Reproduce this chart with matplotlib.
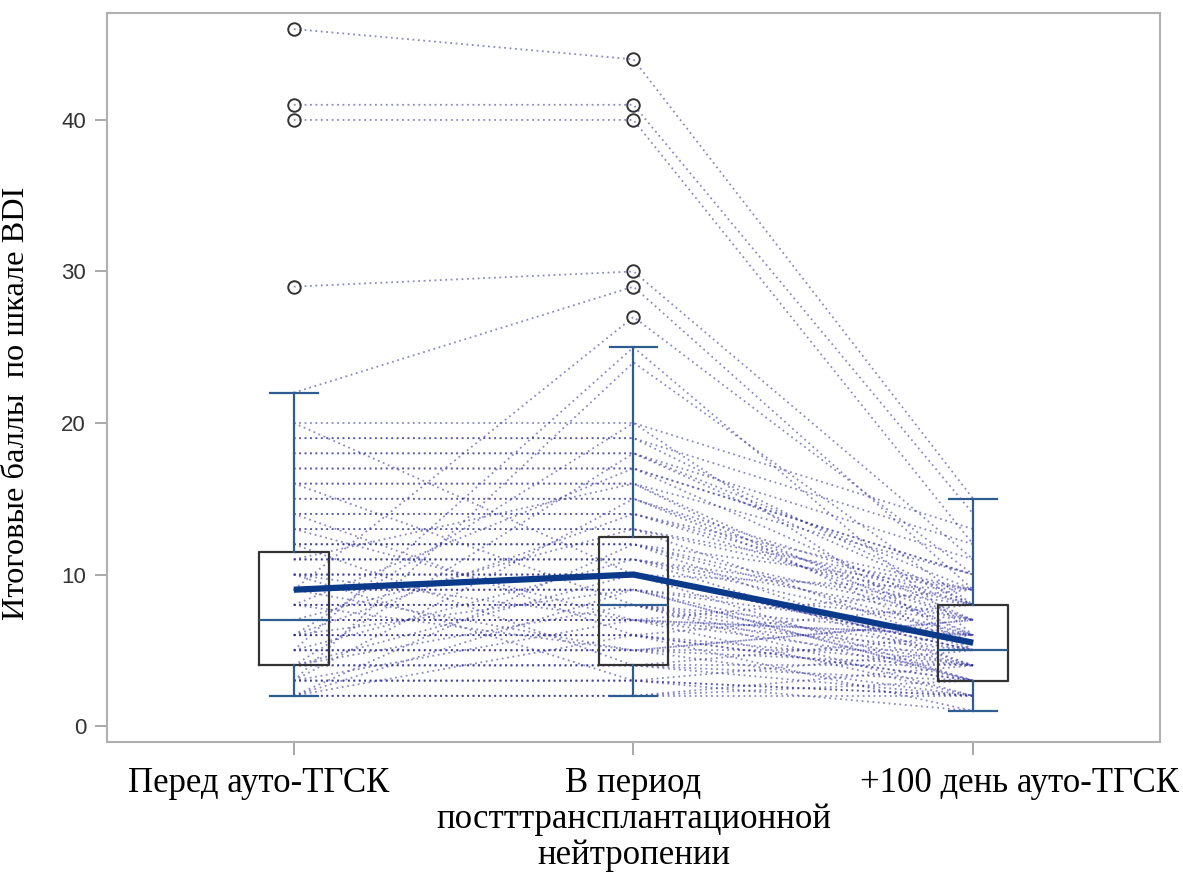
import matplotlib
matplotlib.use("Agg")
import matplotlib.pyplot as plt
import matplotlib.transforms as mtransforms

# ---- data ----
categories = ["Перед ауто-ТГСК",
              "В период\nпостттрансплантационной\nнейтропении",
              "+100 день ауто-ТГСК"]

pre  = [46, 41, 40, 29, 22, 9, 5, 3, 20, 19, 18, 18, 17, 16, 15, 15, 14, 13, 12, 12,
        11, 11, 10, 10, 9, 9, 8, 8, 7, 7, 6, 6, 5, 5, 4, 4, 3, 3, 2, 2,
        2, 3, 4, 6, 14, 12, 16, 20, 7, 5, 8, 10, 13, 11, 2, 4, 6, 3, 9, 2,
        2, 3, 4, 5, 6, 7, 8, 9, 10, 11, 12, 13, 14, 16, 17, 19, 4, 6, 8, 10]
neut = [44, 41, 40, 30, 29, 27, 25, 24, 20, 19, 18, 18, 17, 16, 15, 15, 14, 13, 12, 12,
        11, 11, 10, 10, 9, 9, 8, 8, 7, 7, 6, 6, 5, 5, 4, 4, 3, 3, 2, 2,
        12, 15, 18, 20, 6, 4, 8, 10, 13, 11, 17, 3, 7, 16, 9, 10, 14, 7, 5, 6,
        2, 3, 4, 5, 6, 7, 8, 9, 10, 11, 12, 13, 14, 16, 17, 19, 8, 9, 5, 7]
d100 = [15, 14, 12, 11, 9, 10, 6, 8, 13, 12, 9, 11, 7, 10, 8, 6, 9, 5, 7, 4,
        8, 6, 5, 9, 4, 7, 3, 6, 5, 2, 4, 3, 5, 2, 3, 4, 2, 1, 2, 3,
        6, 7, 8, 5, 3, 2, 4, 5, 9, 7, 10, 2, 4, 6, 3, 5, 8, 6, 4, 1,
        4, 5, 6, 7, 8, 9, 5, 6, 3, 4, 9, 8, 7, 5, 10, 8, 2, 3, 7, 6]

q1      = [4, 4, 3]
medians = [7, 8, 5]
q3      = [11.5, 12.5, 8]
whislo  = [2, 2, 1]
whishi  = [22, 25, 15]
fliers  = [[29, 40, 41, 46], [27, 29, 30, 40, 41, 44], []]
means   = [9, 10, 5.5]

fig = plt.figure(figsize=(11.83, 8.75), dpi=100)
ax = fig.add_axes([0.0904, 0.152, 0.8902, 0.833])

xs = [0, 1, 2]
for a, b, c in zip(pre, neut, d100):
    ax.plot(xs, [a, b, c], linestyle=(0, (1, 2.0)), color="#2a2a9a", lw=1.3,
            alpha=0.55, zorder=1)

stats = []
for i in range(3):
    stats.append(dict(q1=q1[i], med=medians[i], q3=q3[i], whislo=whislo[i],
                      whishi=whishi[i], fliers=fliers[i], label=categories[i]))
ax.bxp(stats, positions=xs, widths=0.205, showfliers=True, patch_artist=False,
       boxprops=dict(color="#333333", lw=1.6),
       medianprops=dict(color="#2f5d91", lw=1.6),
       whiskerprops=dict(color="#2f5d91", lw=1.6),
       capprops=dict(color="#2f5d91", lw=1.6),
       capwidths=0.14,
       flierprops=dict(marker="o", markerfacecolor="none", markeredgecolor="#333333",
                       markersize=9, markeredgewidth=1.4),
       zorder=2)

ax.plot(xs, means, color="#0b3a8a", lw=4.5, zorder=3, solid_capstyle="butt")

ax.set_xlim(-0.55, 2.55)
ax.set_ylim(-1.05, 47.05)
ax.set_yticks([0, 10, 20, 30, 40])
ax.set_xticks(xs)
ax.set_xticklabels(categories, family="Liberation Serif", fontsize=25,
                   linespacing=1.13)
for lab in ax.get_yticklabels():
    lab.set_family("Liberation Sans")
    lab.set_fontsize(16)
ax.set_ylabel("Итоговые баллы  по шкале BDI", family="Liberation Serif",
              fontsize=23.3)
ax.yaxis.set_label_coords(-0.072, 0.465)

for s in ax.spines.values():
    s.set_color("#b0b0b0")
    s.set_linewidth(1.5)
ax.tick_params(axis="both", colors="#999999", length=9, width=1.2)
ax.tick_params(axis="x", labelcolor="black", pad=9)
ax.tick_params(axis="y", labelcolor="#333333", pad=6)

# horizontal offsets of the outer category labels (as in the original layout)
shifts_px = [-35, 0, 46]
for lab, dx in zip(ax.get_xticklabels(), shifts_px):
    lab.set_transform(lab.get_transform() +
                      mtransforms.ScaledTranslation(dx / 100, 0, fig.dpi_scale_trans))

fig.savefig("out.png", dpi=100)
